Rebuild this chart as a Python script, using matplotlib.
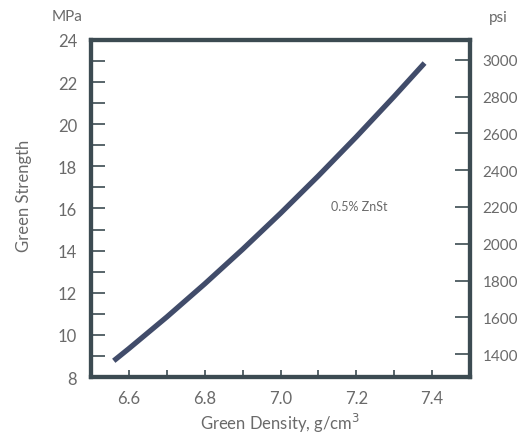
import matplotlib.pyplot as plt
from matplotlib.ticker import MultipleLocator

plt.rcParams['font.family'] = ['Lato', 'DejaVu Sans']

# green strength vs green density, 0.5% ZnSt lubricant
density = [6.56, 6.60, 6.70, 6.80, 6.90, 7.00, 7.10, 7.20, 7.30, 7.38]
strength_mpa = [8.77, 9.35, 10.85, 12.42, 14.06, 15.77, 17.55, 19.40, 21.32, 22.9]

mpa_ticks = [8, 10, 12, 14, 16, 18, 20, 22, 24]
psi_ticks = [1400, 1600, 1800, 2000, 2200, 2400, 2600, 2800, 3000]
density_ticks = [6.6, 6.8, 7.0, 7.2, 7.4]
density_labels = ["6.6", "6.8", "7.0", "7.2", "7.4"]

spine_col = "#3c4b52"
text_col = "#6a6a6a"
line_col = "#414c6a"

fig = plt.figure(figsize=(5.24, 4.35), dpi=100)
ax = fig.add_axes([0.1737, 0.131, 0.7233, 0.775])

ax.plot(density, strength_mpa, color=line_col, lw=3.8, solid_capstyle="butt")

ax.set_xlim(6.5, 7.5)
ax.set_ylim(8, 24)
ax.set_xticks(density_ticks)
ax.set_xticklabels(density_labels)
ax.xaxis.set_minor_locator(MultipleLocator(0.1))
ax.set_yticks(mpa_ticks)
ax.yaxis.set_minor_locator(MultipleLocator(1))

for s in ax.spines.values():
    s.set_color(spine_col)
    s.set_linewidth(3)

ax.tick_params(axis="y", which="both", direction="in", length=10, width=1.2,
               color=spine_col, labelcolor=text_col, labelsize=12, pad=10)
ax.tick_params(axis="x", which="both", direction="in", length=5, width=1.2,
               color=spine_col, labelcolor=text_col, labelsize=12, pad=9)

ax.set_xlabel("Green Density, g/cm$^3$", color=text_col, fontsize=12, labelpad=4)
ax.set_ylabel("Green Strength", color=text_col, fontsize=12)
ax.yaxis.set_label_coords(-0.155, 0.54)

# psi scale on the right
ax2 = ax.twinx()
ax2.set_ylim(1275, 3109)
ax2.set_yticks(psi_ticks)
ax2.tick_params(axis="y", direction="in", length=11, width=1.2,
                color=spine_col, labelcolor=text_col, labelsize=11, pad=9)
for s in ax2.spines.values():
    s.set_color(spine_col)
    s.set_linewidth(3)

ax.text(7.207, 16.1, "0.5% ZnSt", color=text_col, fontsize=9,
        ha="center", va="center")

fig.text(67 / 524, 1 - 17 / 435, "MPa", color=text_col, fontsize=11,
         ha="center", va="center")
fig.text(498 / 524, 1 - 18 / 435, "psi", color=text_col, fontsize=11,
         ha="center", va="center")

fig.savefig("out.png", dpi=100)
